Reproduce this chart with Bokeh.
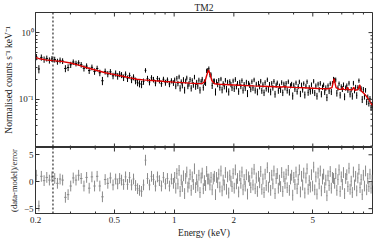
import numpy as np
from bokeh.plotting import figure
from bokeh.layouts import column
from bokeh.models import (FixedTicker, CustomJSTickFormatter, Span, ColumnDataSource, Range1d)
from bokeh.embed import file_html
from bokeh.resources import INLINE

# ---------------- data ----------------
energy = [
    0.202, 0.208, 0.214, 0.221, 0.228, 0.235, 0.242, 0.250, 0.258, 0.266,
    0.274, 0.283, 0.292, 0.301, 0.310, 0.320, 0.330, 0.340, 0.351, 0.362,
    0.373, 0.385, 0.397, 0.409, 0.422, 0.435, 0.449, 0.463, 0.477, 0.492,
    0.507, 0.519, 0.531, 0.543, 0.556, 0.569, 0.582, 0.596, 0.610, 0.624,
    0.639, 0.654, 0.669, 0.685, 0.701, 0.717, 0.734, 0.751, 0.769, 0.787,
    0.805, 0.824, 0.843, 0.863, 0.883, 0.904, 0.925, 0.947, 0.969, 0.992,
    1.006, 1.019, 1.032, 1.045, 1.059, 1.072, 1.086, 1.100, 1.114, 1.129,
    1.143, 1.158, 1.173, 1.188, 1.203, 1.219, 1.234, 1.250, 1.266, 1.283,
    1.299, 1.316, 1.333, 1.350, 1.368, 1.385, 1.403, 1.421, 1.440, 1.458,
    1.477, 1.496, 1.515, 1.535, 1.555, 1.575, 1.595, 1.616, 1.636, 1.657,
    1.679, 1.700, 1.722, 1.745, 1.767, 1.790, 1.813, 1.836, 1.860, 1.884,
    1.908, 1.933, 1.958, 1.983,
    2.009, 2.035, 2.061, 2.087, 2.114, 2.142, 2.169, 2.197, 2.226, 2.254,
    2.283, 2.313, 2.343, 2.373, 2.403, 2.434, 2.466, 2.497, 2.530, 2.562,
    2.595, 2.629, 2.663, 2.697, 2.732, 2.767, 2.803, 2.839, 2.875, 2.912,
    2.950, 2.988, 3.026, 3.065, 3.105, 3.145, 3.185, 3.226, 3.268, 3.310,
    3.353, 3.396, 3.440, 3.484, 3.529, 3.575, 3.621, 3.668, 3.715, 3.763,
    3.811, 3.860, 3.910, 3.960, 4.011, 4.063, 4.115, 4.169, 4.222, 4.277,
    4.332, 4.388, 4.444, 4.501, 4.559, 4.618, 4.678, 4.738, 4.799, 4.861,
    4.924, 4.987,
    5.051, 5.116, 5.182, 5.249, 5.317, 5.385, 5.455, 5.525, 5.596, 5.669,
    5.742, 5.816, 5.891, 5.967, 6.044, 6.122, 6.201, 6.281, 6.362, 6.444,
    6.527, 6.611, 6.696, 6.783, 6.870, 6.959, 7.049, 7.140, 7.232, 7.325,
    7.420, 7.515, 7.612, 7.710, 7.810, 7.911, 8.013, 8.116, 8.221, 8.327,
    8.434, 8.543, 8.653, 8.765, 8.878, 8.992, 9.108, 9.226, 9.345, 9.465,
    9.587, 9.711, 9.836, 9.963,
]

# normalised counts s^-1 keV^-1, in units of 1e-3
counts_milli = [
    432, 285, 425, 396, 410, 384, 403, 395, 368, 385,
    375, 290, 300, 330, 362, 345, 352, 330, 292, 315,
    270, 302, 262, 290, 250, 190, 262, 240, 258, 225,
    245, 222, 240, 232, 212, 238, 205, 228, 197, 215,
    190, 178, 172, 168, 185, 272, 205, 182, 210, 198,
    176, 205, 192, 172, 200, 178, 195, 170, 190, 176,
    195, 158, 207, 173, 217, 147, 183, 162, 198, 138,
    188, 209, 158, 171, 198, 147, 191, 165, 216, 155,
    180, 159, 194, 138, 184, 200, 151, 182, 177, 268,
    273, 289, 235, 232, 161, 187, 189, 130, 184, 167,
    193, 151, 202, 139, 172, 157, 194, 143, 181, 130,
    185, 167, 149, 189,
    144, 199, 156, 173, 132, 180, 157, 191, 137, 167,
    148, 181, 123, 174, 163, 142, 184, 149, 196, 137,
    169, 130, 174, 155, 187, 135, 165, 126, 178, 145,
    197, 140, 168, 130, 174, 149, 186, 120, 163, 177,
    135, 158, 139, 179, 126, 170, 150, 174, 136, 184,
    128, 160, 169, 113, 163, 143, 177, 131, 156, 183,
    121, 164, 140, 173, 117, 158, 184, 127, 150, 132,
    166, 135,
    187, 125, 159, 112, 169, 140, 174, 120, 152, 165,
    129, 148, 107, 160, 134, 173, 130, 173, 201, 194,
    196, 124, 148, 172, 116, 155, 143, 166, 110, 148,
    160, 138, 175, 120, 140, 112, 175, 136, 152, 115,
    150, 191, 147, 144, 100, 141, 110, 137, 92, 108,
    87, 103, 75, 82,
]

# 1-sigma errors, units of 1e-3
err_milli = [
    46, 40, 45, 43, 42, 41, 40, 40, 38, 38,
    37, 35, 35, 35, 34, 34, 33, 32, 31, 31,
    30, 30, 29, 29, 28, 27, 27, 26, 26, 25,
    26, 25, 25, 24, 24, 24, 23, 23, 22, 22,
    22, 21, 21, 21, 20, 21, 20, 20, 20, 19,
    19, 19, 19, 18, 18, 18, 18, 18, 17, 17,
    17, 16, 17, 16, 17, 16, 16, 16, 17, 16,
    16, 17, 16, 16, 17, 16, 16, 16, 17, 16,
    16, 16, 17, 16, 16, 17, 16, 17, 18, 20,
    21, 22, 21, 20, 18, 17, 16, 16, 16, 15,
    16, 16, 15, 16, 15, 16, 15, 16, 15, 16,
    15, 15, 16, 15,
    15, 16, 15, 15, 15, 16, 15, 15, 15, 15,
    15, 15, 15, 15, 15, 14, 15, 15, 15, 15,
    14, 15, 15, 14, 15, 14, 15, 14, 15, 14,
    15, 14, 14, 15, 14, 14, 15, 14, 14, 14,
    14, 14, 14, 14, 14, 14, 14, 14, 14, 14,
    14, 14, 14, 14, 14, 14, 14, 13, 14, 14,
    13, 14, 14, 13, 14, 13, 14, 14, 13, 14,
    13, 14,
    14, 13, 14, 13, 14, 13, 14, 13, 14, 13,
    13, 14, 13, 13, 14, 13, 14, 15, 16, 17,
    16, 14, 13, 13, 13, 13, 14, 13, 13, 13,
    13, 13, 14, 13, 13, 13, 14, 13, 13, 13,
    13, 14, 14, 13, 12, 12, 11, 11, 10, 10,
    9, 9, 8, 8,
]

# (data-model)/error
residual = [
    1.2, -4.5, 1.0, 0.2, 0.8, 0.3, 0.9, 0.6, -0.3, 0.5,
    0.3, -2.9, -2.4, -0.8, 0.7, 0.3, 1.2, 0.6, -0.8, 0.8,
    -1.2, 0.9, -0.8, 1.0, -0.8, -2.8, 0.4, -0.3, 0.7, -0.6,
    0.5, -0.4, 0.6, 0.3, -0.5, 0.9, -0.5, 0.8, -0.6, 0.5,
    -0.7, -1.3, -1.6, -1.8, -0.6, 4.0, 0.6, -0.6, 1.0, 0.4,
    -0.8, 0.9, 0.2, -0.8, 0.8, -0.4, 0.6, -0.8, 0.5, -0.3,
    0.8, -1.2, 1.5, -0.4, 2.1, -1.8, 0.3, -0.9, 1.1, -2.2,
    0.6, 1.8, -1.0, -0.3, 1.3, -1.6, 0.9, -0.5, 2.4, -1.1,
    0.4, -0.8, 1.2, -2.0, 0.7, 1.6, -1.3, 0.2, -0.7, 1.9,
    0.5, 0.5, -0.6, 0.8, -1.5, 0.5, 1.0, -2.4, 0.8, -0.2,
    1.4, -1.0, 2.0, -1.7, 0.3, -0.6, 1.7, -1.4, 0.9, -2.1,
    1.2, 0.1, -0.9, 1.5,
    -1.2, 2.2, -0.4, 0.6, -1.9, 1.1, -0.3, 1.8, -1.5, 0.4,
    -0.8, 1.3, -2.3, 0.9, 0.2, -1.1, 1.6, -0.6, 2.3, -1.3,
    0.7, -1.8, 1.0, -0.2, 1.9, -1.4, 0.5, -2.0, 1.4, -0.7,
    2.6, -1.0, 0.8, -1.6, 1.2, -0.4, 2.0, -2.2, 0.6, 1.5,
    -1.2, 0.3, -0.9, 1.7, -1.8, 0.9, -0.3, 1.4, -1.1, 2.1,
    -1.6, 0.5, 1.2, -2.5, 0.8, -0.5, 1.8, -1.3, 0.4, 2.2,
    -1.9, 1.0, -0.6, 1.6, -2.1, 0.7, 2.4, -1.4, 0.2, -1.0,
    1.3, -0.8,
    2.7, -1.5, 0.9, -2.3, 1.6, -0.4, 2.0, -1.7, 0.5, 1.4,
    -1.1, 0.3, -2.6, 1.1, -0.7, 1.9, -1.2, 0.8, 0.6, -0.3,
    1.5, -1.6, 0.4, 2.2, -1.8, 0.9, -0.5, 1.7, -2.2, 0.6,
    1.3, -0.9, 2.5, -1.4, 0.1, -2.0, 1.8, -0.6, 1.0, -1.7,
    0.7, 2.3, -1.1, 0.4, -2.4, 1.2, -0.8, 2.0, -1.5, 0.6,
    -0.9, 1.4, -1.2, 0.3,
]

model_energy = [
    0.200, 0.210, 0.225, 0.245, 0.270, 0.300, 0.330, 0.360, 0.400, 0.450,
    0.500, 0.550, 0.600, 0.650, 0.700, 0.800, 0.900, 1.000, 1.100, 1.200,
    1.300, 1.380, 1.430, 1.460, 1.490, 1.520, 1.550, 1.600, 1.700, 2.000,
    2.500, 3.000, 3.500, 3.600, 3.700, 4.000, 4.500, 5.000, 5.500, 6.000,
    6.250, 6.400, 6.550, 6.800, 7.000, 7.060, 7.150, 7.400, 7.480, 7.580,
    7.900, 8.040, 8.150, 8.450, 8.620, 8.750, 9.000, 9.300, 9.600, 10.00,
]
model_flux = [
    0.425, 0.405, 0.390, 0.380, 0.370, 0.350, 0.325, 0.300, 0.275, 0.250,
    0.235, 0.222, 0.210, 0.200, 0.196, 0.190, 0.185, 0.181, 0.178, 0.175,
    0.173, 0.172, 0.185, 0.230, 0.275, 0.235, 0.190, 0.171, 0.168, 0.164,
    0.159, 0.156, 0.153, 0.156, 0.153, 0.151, 0.149, 0.147, 0.145, 0.144,
    0.150, 0.205, 0.150, 0.141, 0.141, 0.150, 0.141, 0.140, 0.152, 0.139,
    0.139, 0.152, 0.137, 0.140, 0.165, 0.135, 0.125, 0.112, 0.098, 0.080,
]

marker_energy = 0.245
x_major = [0.2, 0.5, 1, 2, 5]
x_minor = [0.3, 0.4, 0.6, 0.7, 0.8, 0.9, 3, 4, 6, 7, 8, 9]
y_major_top = [0.1, 1.0]
y_minor_top = [0.02, 0.03, 0.04, 0.05, 0.06, 0.07, 0.08, 0.09,
               0.2, 0.3, 0.4, 0.5, 0.6, 0.7, 0.8, 0.9, 2.0]
res_major = [-5, 0, 5]

title_text = "TM2"
ylabel_top = "Normalised counts s\u207b\u00b9 keV\u207b\u00b9"
ylabel_bot = "(data-model)/error"
xlabel = "Energy (keV)"

# ---------------- derived ----------------
E = np.array(energy)
F = np.array(counts_milli) / 1000.0
ERR = np.array(err_milli) / 1000.0
R = np.array(residual)
logE = np.log10(E)
gaps = np.diff(logE)
lo = 10 ** (logE - 0.45 * np.concatenate([[gaps[0]], gaps]))
hi = 10 ** (logE + 0.45 * np.concatenate([gaps, [gaps[-1]]]))

src = ColumnDataSource(dict(e=E, f=F, flo=F - ERR, fhi=F + ERR, lo=lo, hi=hi,
                            r=R, rlo=R - 1.0, rhi=R + 1.0))

FONT = "Liberation Serif"
W = 374
LEFT = 33
RIGHT = 2
X0, X1 = 0.2, 10.0
Y0T, Y1T = 0.019, 2.0
Y0B, Y1B = -5.9, 6.35
TICK = "#333333"

sup_js = """
const e = Math.round(Math.log10(tick));
const sup = {"-":"\u207b","0":"\u2070","1":"\u00b9","2":"\u00b2"};
return "10" + String(e).split("").map(c => sup[c]).join("");
"""
num_js = """
const v = Math.round(tick*10)/10;
return v < 0 ? "\u2212" + String(-v) : String(v);
"""


def style_axis(ax):
    ax.major_tick_in = 4
    ax.major_tick_out = 0
    ax.minor_tick_in = 2
    ax.minor_tick_out = 0
    ax.axis_line_color = TICK
    ax.major_tick_line_color = TICK
    ax.minor_tick_line_color = TICK
    ax.major_label_text_font = FONT
    ax.major_label_text_font_size = "9px"
    ax.major_label_text_color = "#222222"
    ax.major_label_standoff = 2
    ax.axis_label_text_font = FONT
    ax.axis_label_text_font_size = "9.5px"
    ax.axis_label_text_font_style = "normal"
    ax.axis_label_text_color = "#222222"
    ax.axis_label_standoff = 2


def edge_ticks(p, xs, y, size):
    # inward tick marks along a horizontal frame edge (outer half is clipped)
    p.scatter(x=xs, y=[y] * len(xs), marker="dash", angle=np.pi / 2, size=size,
              line_color=TICK, line_width=1)


def side_ticks(p, ys, x, size):
    p.scatter(x=[x] * len(ys), y=ys, marker="dash", size=size,
              line_color=TICK, line_width=1)


# ---------------- top panel ----------------
p1 = figure(width=W, height=147, x_axis_type="log", y_axis_type="log",
            x_range=Range1d(X0, X1), y_range=Range1d(Y0T, Y1T),
            x_axis_location=None,
            output_backend="svg", toolbar_location=None,
            min_border_left=LEFT, min_border_right=RIGHT,
            min_border_top=12, min_border_bottom=0)
p1.title.text = title_text
p1.title.align = "center"
p1.title.text_font = FONT
p1.title.text_font_size = "9.5px"
p1.title.text_font_style = "normal"
p1.title.text_color = "#222222"
p1.title.standoff = 0
p1.grid.visible = False
p1.outline_line_color = TICK

p1.yaxis.ticker = FixedTicker(ticks=y_major_top, minor_ticks=y_minor_top)
p1.yaxis.formatter = CustomJSTickFormatter(code=sup_js)
p1.yaxis.axis_label = ylabel_top
style_axis(p1.yaxis[0])

p1.segment(x0="e", y0="flo", x1="e", y1="fhi", source=src, line_color="black", line_width=1)
p1.segment(x0="lo", y0="f", x1="hi", y1="f", source=src, line_color="black", line_width=1)
p1.line(model_energy, model_flux, line_color="#dd0000", line_width=1.4)
p1.add_layout(Span(location=marker_energy, dimension="height", line_color="black",
                   line_width=1, line_dash="2 2"))
for yy in (Y0T, Y1T):
    edge_ticks(p1, x_major, yy, 8)
    edge_ticks(p1, x_minor, yy, 4)
side_ticks(p1, y_major_top, X1, 8)
side_ticks(p1, y_minor_top, X1, 4)

# ---------------- bottom panel ----------------
p2 = figure(width=W, height=93, x_axis_type="log",
            x_range=p1.x_range, y_range=Range1d(Y0B, Y1B),
            output_backend="svg", toolbar_location=None,
            min_border_left=LEFT, min_border_right=RIGHT,
            min_border_top=0, min_border_bottom=26)
p2.grid.visible = False
p2.outline_line_color = TICK
p2.xaxis.ticker = FixedTicker(ticks=x_major, minor_ticks=x_minor)
p2.xaxis.formatter = CustomJSTickFormatter(code=num_js)
p2.xaxis.axis_label = xlabel
style_axis(p2.xaxis[0])
p2.xaxis.major_label_standoff = 3
p2.yaxis.ticker = FixedTicker(ticks=res_major, minor_ticks=[])
p2.yaxis.formatter = CustomJSTickFormatter(code=num_js)
p2.yaxis.axis_label = ylabel_bot
style_axis(p2.yaxis[0])
p2.yaxis.axis_label_text_font_size = "8.5px"

p2.segment(x0="e", y0="rlo", x1="e", y1="rhi", source=src, line_color="#8a8a8a", line_width=1)
p2.segment(x0="lo", y0="r", x1="hi", y1="r", source=src, line_color="#8a8a8a", line_width=1)
p2.add_layout(Span(location=marker_energy, dimension="height", line_color="black",
                   line_width=1, line_dash="2 2"))
edge_ticks(p2, x_major, Y1B, 8)
edge_ticks(p2, x_minor, Y1B, 4)
side_ticks(p2, res_major, X1, 8)

layout = column(p1, p2, spacing=0)
open("out.html", "w").write(file_html(layout, INLINE))
